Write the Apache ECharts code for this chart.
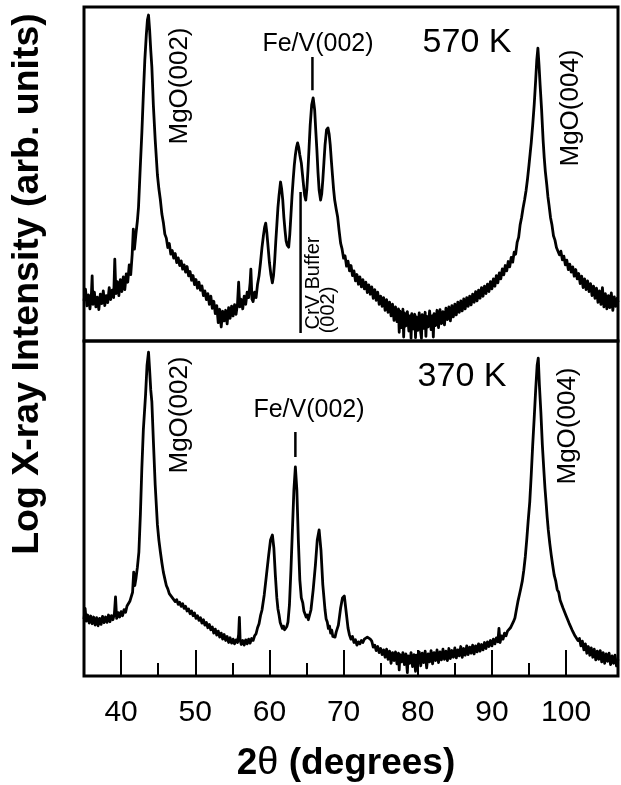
<!DOCTYPE html>
<html>
<head>
<meta charset="utf-8">
<script src="https://cdn.jsdelivr.net/npm/echarts@6/dist/echarts.min.js"></script>
<style>
  html, body { margin: 0; padding: 0; background: #fff; }
  #chart { width: 621px; height: 785px; }
</style>
</head>
<body>
<div id="chart"></div>
<script>
// 2θ scans, [2θ (deg), log intensity (arb. units, 0–100 per panel)]
const scan570K = [
  [35.0,12.0],[35.2,15.5],[35.4,10.5],[35.6,13.8],[35.8,9.6],[36.0,14.2],[36.1,19.5],[36.2,11.0],
  [36.4,14.6],[36.6,10.2],[36.8,13.1],[37.0,9.4],[37.2,14.0],[37.4,11.2],[37.6,15.0],[37.8,10.6],
  [38.0,13.6],[38.2,11.5],[38.4,16.0],[38.6,12.4],[38.8,15.2],[39.0,13.0],[39.15,24.5],[39.3,14.2],
  [39.5,17.8],[39.7,13.6],[39.9,18.4],[40.1,14.8],[40.3,19.2],[40.5,15.4],[40.7,20.1],[40.9,17.6],
  [41.1,22.8],[41.3,19.9],[41.5,26.0],[41.65,33.5],[41.8,27.5],[42.0,32.0],[42.2,36.0],[42.35,40.1],
  [42.6,52.7],[42.8,62.3],[43.0,73.7],[43.2,84.1],[43.4,91.6],[43.55,96.1],[43.7,97.6],[43.85,93.1],
  [44.0,87.1],[44.15,82.0],[44.35,70.7],[44.6,60.2],[44.9,49.7],[45.1,45.5],[45.3,42.2],[45.5,38.0],
  [45.7,35.5],[45.9,32.0],[46.1,30.8],[46.3,28.0],[46.5,29.2],[46.7,26.0],[46.9,27.1],[47.1,24.8],
  [47.3,26.2],[47.5,23.5],[47.7,24.9],[47.9,22.6],[48.1,24.0],[48.3,21.5],[48.5,22.8],[48.7,20.6],
  [48.9,22.3],[49.1,19.5],[49.3,20.8],[49.5,18.2],[49.7,19.6],[49.9,16.9],[50.1,18.4],[50.3,15.8],
  [50.5,17.6],[50.7,15.2],[50.9,16.5],[51.1,13.6],[51.3,15.0],[51.5,12.4],[51.7,14.2],[51.9,11.0],
  [52.1,13.4],[52.3,9.8],[52.5,11.9],[52.7,8.2],[52.9,10.6],[53.1,5.5],[53.3,9.5],[53.5,4.2],
  [53.7,8.9],[53.9,6.0],[54.1,9.2],[54.3,5.1],[54.5,10.0],[54.7,6.8],[54.9,10.4],[55.1,7.5],
  [55.3,10.9],[55.5,8.0],[55.7,11.2],[55.85,17.6],[56.0,10.2],[56.2,12.5],[56.4,9.6],[56.6,13.4],
  [56.8,11.0],[57.0,14.6],[57.2,13.0],[57.4,17.5],[57.5,21.5],[57.65,12.5],[57.8,11.8],[58.0,14.6],
  [58.2,13.0],[58.4,17.0],[58.6,19.5],[58.8,23.5],[59.0,28.0],[59.2,31.7],[59.35,34.0],[59.5,35.3],
  [59.65,32.5],[59.8,28.7],[60.0,23.5],[60.2,19.8],[60.4,17.4],[60.55,19.5],[60.7,23.7],[60.85,29.5],
  [61.0,34.7],[61.15,40.0],[61.3,43.7],[61.5,47.6],[61.65,45.5],[61.8,42.2],[61.95,37.0],[62.1,33.2],
  [62.25,30.0],[62.4,28.7],[62.6,28.1],[62.75,32.0],[62.9,37.7],[63.05,43.5],[63.2,48.2],[63.35,52.5],
  [63.5,55.7],[63.65,58.0],[63.8,59.3],[63.95,58.0],[64.1,55.7],[64.3,53.3],[64.45,50.0],[64.6,46.7],
  [64.75,43.6],[64.9,42.2],[65.05,45.5],[65.2,51.2],[65.35,58.0],[65.5,64.7],[65.7,70.7],[65.9,72.8],
  [66.1,69.2],[66.25,63.0],[66.4,57.2],[66.55,50.5],[66.7,45.2],[66.9,42.2],[67.05,44.0],[67.2,48.2],
  [67.35,53.5],[67.5,58.7],[67.7,63.2],[67.9,63.8],[68.05,62.0],[68.2,58.7],[68.35,54.0],[68.5,49.7],
  [68.65,45.5],[68.8,42.2],[69.0,39.5],[69.2,37.1],[69.4,33.0],[69.6,29.3],[69.8,27.5],[70.0,24.8],
  [70.2,25.5],[70.4,22.4],[70.6,23.9],[70.8,21.0],[71.0,22.6],[71.2,19.6],[71.4,21.0],[71.6,18.0],
  [71.8,19.9],[72.0,17.0],[72.2,19.2],[72.4,16.2],[72.6,18.4],[72.8,15.6],[73.0,17.6],[73.2,14.5],
  [73.4,16.8],[73.6,14.0],[73.8,16.2],[74.0,12.8],[74.2,15.4],[74.4,12.2],[74.6,14.6],[74.8,11.0],
  [75.0,13.4],[75.2,10.4],[75.4,13.0],[75.6,9.2],[75.8,12.4],[76.0,8.6],[76.2,11.6],[76.4,7.5],
  [76.6,11.0],[76.8,6.2],[77.0,10.2],[77.2,5.8],[77.4,9.6],[77.5,2.6],[77.6,8.9],[77.8,4.0],
  [78.0,9.5],[78.1,1.2],[78.2,8.4],[78.4,4.5],[78.6,8.8],[78.8,3.0],[79.0,7.6],[79.1,0.8],
  [79.2,8.2],[79.4,3.6],[79.6,8.0],[79.7,1.0],[79.8,7.2],[80.0,3.2],[80.2,8.4],[80.4,2.5],
  [80.5,0.8],[80.6,7.9],[80.8,3.8],[81.0,8.6],[81.1,1.4],[81.2,7.4],[81.4,4.2],[81.6,9.0],
  [81.8,3.4],[82.0,7.6],[82.1,1.2],[82.2,8.2],[82.4,4.6],[82.6,9.2],[82.8,4.0],[83.0,9.4],
  [83.2,5.2],[83.4,8.8],[83.6,4.8],[83.8,9.8],[84.0,6.4],[84.2,10.2],[84.4,6.0],[84.6,10.6],
  [84.8,7.2],[85.0,11.0],[85.2,7.8],[85.4,11.6],[85.6,8.6],[85.8,12.0],[86.0,9.0],[86.2,12.6],
  [86.4,9.6],[86.6,13.0],[86.8,10.4],[87.0,13.4],[87.2,10.8],[87.4,14.0],[87.6,11.6],[87.8,14.8],
  [88.0,12.0],[88.2,15.2],[88.4,12.8],[88.6,16.0],[88.8,13.4],[89.0,16.4],[89.2,14.2],[89.4,17.0],
  [89.6,14.8],[89.8,17.8],[90.0,15.6],[90.2,18.6],[90.4,16.4],[90.6,19.6],[90.8,17.4],[91.0,20.4],
  [91.2,18.6],[91.4,21.6],[91.6,19.8],[91.8,22.6],[92.0,21.0],[92.2,23.8],[92.4,22.2],[92.6,25.0],
  [92.8,23.6],[93.0,26.6],[93.2,26.0],[93.4,29.5],[93.6,31.0],[93.8,34.7],[94.0,37.0],[94.2,39.8],
  [94.4,42.2],[94.6,45.0],[94.8,48.5],[95.0,52.7],[95.15,56.0],[95.3,59.3],[95.5,64.7],[95.7,70.7],
  [95.9,78.1],[96.05,84.1],[96.2,87.7],[96.35,82.6],[96.5,76.6],[96.7,69.2],[96.9,60.2],[97.05,55.0],
  [97.2,50.8],[97.4,46.7],[97.55,43.2],[97.7,40.7],[97.9,37.0],[98.1,34.7],[98.3,31.5],[98.5,30.2],
  [98.7,28.0],[98.9,28.4],[99.1,25.8],[99.3,26.9],[99.5,24.3],[99.7,25.4],[99.9,22.8],[100.1,24.2],
  [100.3,21.4],[100.5,23.0],[100.7,20.6],[100.9,22.2],[101.1,19.4],[101.3,21.4],[101.5,18.6],[101.7,20.2],
  [101.9,17.2],[102.1,19.4],[102.3,16.0],[102.5,18.6],[102.7,15.4],[102.9,18.0],[103.1,14.8],[103.3,17.2],
  [103.5,13.6],[103.7,16.4],[103.9,12.8],[104.1,15.8],[104.3,11.6],[104.5,15.0],[104.7,11.0],[104.9,16.0],
  [105.1,10.2],[105.3,14.2],[105.5,9.6],[105.7,13.6],[105.9,10.0],[106.1,14.4],[106.3,9.2],[106.5,13.2],
  [106.7,10.4],[106.9,12.8],[107.0,11.6]
];

const scan370K = [
  [35.0,17.0],[35.15,20.2],[35.3,16.4],[35.5,18.2],[35.7,15.8],[35.9,17.9],[36.1,15.6],[36.3,17.6],
  [36.5,15.2],[36.7,17.4],[36.9,15.0],[37.1,17.2],[37.3,15.4],[37.5,17.8],[37.7,15.9],[37.9,17.6],
  [38.1,16.0],[38.3,18.2],[38.5,16.2],[38.7,18.0],[38.9,16.8],[39.1,18.6],[39.25,23.6],[39.4,17.2],
  [39.6,18.9],[39.8,17.6],[40.0,19.2],[40.2,18.0],[40.4,19.8],[40.6,19.0],[40.8,20.9],[41.0,20.4],
  [41.2,22.4],[41.4,22.8],[41.55,25.0],[41.7,31.0],[41.85,27.0],[42.0,29.0],[42.2,32.5],[42.4,37.0],
  [42.6,48.1],[42.8,62.1],[43.0,73.4],[43.3,83.9],[43.5,92.8],[43.7,96.7],[43.85,91.3],[44.0,85.4],
  [44.15,81.8],[44.35,70.4],[44.6,57.0],[44.9,45.1],[45.1,40.5],[45.3,37.0],[45.5,33.8],[45.7,31.0],
  [45.9,29.0],[46.1,27.0],[46.3,26.0],[46.5,24.6],[46.7,24.8],[46.9,23.4],[47.1,23.6],[47.3,22.2],
  [47.5,22.8],[47.7,21.4],[47.9,22.0],[48.1,20.8],[48.3,21.6],[48.5,20.2],[48.7,20.8],[48.9,19.4],
  [49.1,20.0],[49.3,18.6],[49.5,19.4],[49.7,18.0],[49.9,18.8],[50.1,17.2],[50.3,18.0],[50.5,16.6],
  [50.7,17.4],[50.9,15.8],[51.1,16.8],[51.3,15.2],[51.5,16.0],[51.7,14.4],[51.9,15.4],[52.1,13.8],
  [52.3,14.6],[52.5,12.8],[52.7,14.0],[52.9,12.2],[53.1,13.4],[53.3,11.6],[53.5,12.8],[53.7,11.0],
  [53.9,12.4],[54.1,10.6],[54.3,11.8],[54.5,10.0],[54.7,11.4],[54.9,9.8],[55.1,11.0],[55.3,9.6],
  [55.5,10.8],[55.7,10.0],[55.85,12.4],[55.95,17.5],[56.05,10.8],[56.2,9.4],[56.4,10.6],[56.6,9.2],
  [56.8,10.8],[57.0,9.6],[57.2,11.0],[57.4,9.8],[57.6,11.2],[57.8,10.6],[58.0,12.0],[58.2,12.6],
  [58.4,14.4],[58.6,15.6],[58.8,18.0],[59.0,19.7],[59.3,24.2],[59.6,30.1],[59.9,36.1],[60.15,40.6],
  [60.4,42.1],[60.6,38.2],[60.8,30.1],[61.0,23.3],[61.15,20.0],[61.3,18.2],[61.45,16.0],[61.6,15.5],
  [61.75,14.2],[61.9,14.9],[62.05,13.8],[62.2,14.3],[62.35,14.8],[62.5,16.1],[62.7,21.2],[62.9,31.6],
  [63.1,43.6],[63.3,55.5],[63.5,62.4],[63.7,55.5],[63.9,40.6],[64.1,28.7],[64.3,23.3],[64.5,21.8],
  [64.65,19.4],[64.8,19.1],[64.95,17.6],[65.1,18.2],[65.25,16.8],[65.35,17.3],[65.6,19.7],[65.9,25.7],
  [66.2,33.1],[66.45,40.6],[66.7,43.6],[66.95,37.6],[67.2,27.2],[67.5,19.7],[67.65,17.0],[67.8,16.1],
  [67.95,14.2],[68.1,14.9],[68.25,12.8],[68.4,13.7],[68.55,11.8],[68.7,12.2],[68.85,11.6],[69.0,13.1],
  [69.3,15.2],[69.6,20.3],[69.85,23.3],[70.1,23.9],[70.35,19.1],[70.6,14.3],[70.8,12.2],[71.0,11.0],
  [71.2,11.8],[71.4,10.0],[71.6,10.8],[71.8,9.2],[72.0,10.2],[72.2,9.6],[72.4,10.6],[72.6,10.0],
  [72.8,11.0],[73.0,10.6],[73.2,11.6],[73.4,12.0],[73.6,11.0],[73.8,10.4],[74.0,8.6],[74.2,9.2],
  [74.4,7.6],[74.6,8.8],[74.8,7.0],[75.0,8.2],[75.2,6.4],[75.4,7.8],[75.6,5.6],[75.8,8.0],
  [76.0,5.0],[76.2,7.4],[76.4,3.8],[76.6,7.0],[76.8,4.6],[77.0,7.2],[77.2,3.6],[77.4,6.8],
  [77.5,1.8],[77.6,6.4],[77.8,4.2],[78.0,7.0],[78.2,3.4],[78.4,6.6],[78.6,1.0],[78.7,6.0],
  [78.9,3.8],[79.1,7.0],[79.3,2.8],[79.5,6.4],[79.7,1.4],[79.8,6.2],[80.0,3.6],[80.2,7.2],
  [80.4,3.0],[80.6,6.8],[80.8,4.0],[81.0,7.4],[81.2,2.4],[81.4,6.6],[81.6,4.2],[81.8,7.6],
  [82.0,3.6],[82.2,7.0],[82.4,4.6],[82.6,7.8],[82.8,4.0],[83.0,7.2],[83.2,4.8],[83.4,8.0],
  [83.6,5.0],[83.8,7.4],[84.0,4.6],[84.2,8.2],[84.4,5.2],[84.6,7.6],[84.8,5.6],[85.0,8.4],
  [85.2,5.4],[85.4,7.8],[85.6,6.0],[85.8,8.8],[86.0,5.6],[86.2,8.2],[86.4,6.2],[86.6,9.0],
  [86.8,6.4],[87.0,8.6],[87.2,6.8],[87.4,9.2],[87.6,6.6],[87.8,9.0],[88.0,7.2],[88.2,9.6],
  [88.4,7.4],[88.6,9.4],[88.8,7.8],[89.0,10.0],[89.2,8.2],[89.4,10.2],[89.6,8.8],[89.8,10.6],
  [90.0,9.0],[90.2,11.0],[90.4,9.6],[90.6,11.4],[90.8,10.2],[90.95,14.2],[91.1,10.0],[91.3,12.0],
  [91.5,11.0],[91.7,12.8],[91.9,12.0],[92.1,13.4],[92.3,13.0],[92.5,14.4],[92.7,14.6],[92.9,16.2],
  [93.1,17.3],[93.3,19.8],[93.5,22.2],[93.7,24.2],[93.9,26.2],[94.1,28.4],[94.3,31.6],[94.5,35.6],
  [94.7,40.8],[94.9,46.6],[95.1,51.9],[95.3,60.0],[95.5,69.0],[95.7,77.0],[95.9,85.4],[96.1,92.8],
  [96.25,94.9],[96.4,86.9],[96.6,78.8],[96.8,69.0],[97.0,61.5],[97.15,56.2],[97.3,51.9],[97.45,47.4],
  [97.6,43.6],[97.8,39.6],[98.0,36.1],[98.2,33.0],[98.4,30.1],[98.6,28.4],[98.8,25.8],[99.0,25.0],
  [99.2,22.6],[99.4,22.4],[99.6,20.2],[99.8,20.0],[100.0,18.0],[100.2,17.8],[100.4,15.8],[100.6,15.8],
  [100.8,13.8],[101.0,14.0],[101.2,12.0],[101.4,12.4],[101.6,10.6],[101.8,11.2],[102.0,9.0],[102.2,10.4],
  [102.4,7.8],[102.6,9.6],[102.8,6.8],[103.0,8.8],[103.2,6.2],[103.4,8.4],[103.6,5.6],[103.8,8.0],
  [104.0,4.8],[104.2,7.4],[104.4,5.0],[104.6,7.6],[104.8,4.2],[105.0,7.0],[105.2,3.8],[105.4,6.6],
  [105.6,4.4],[105.8,6.8],[106.0,3.4],[106.2,6.0],[106.4,3.8],[106.6,6.2],[106.8,3.0],[107.0,5.0]
];

// reflection markers: [2θ, lower end, upper end]
const feV570Marker = [65.8, 75.1, 85.0];
const crVBufferLine = [64.2, 2.4, 44.6];
const feV370Marker = [63.5, 65.4, 72.8];

// bottom axis ticks
const majorTicks = [40, 50, 60, 70, 80, 90, 100];
const minorTicks = [45, 55, 65, 75, 85, 95];
const thetaRange = [35, 107];

const chart = echarts.init(document.getElementById('chart'), null, { renderer: 'canvas' });

const LEFT = 84, RIGHT = 3, TOP = 7, MID = 341, BOTTOM = 676;
const FONT = '"Liberation Sans", Arial, Helvetica, sans-serif';

function segment(m, grid) {
  return {
    type: 'line',
    xAxisIndex: grid === 0 ? 0 : 1,
    yAxisIndex: grid,
    data: [[m[0], m[1]], [m[0], m[2]]],
    showSymbol: false,
    lineStyle: { color: '#000', width: 2.5 },
    silent: true,
    z: 3
  };
}

function label(text, x, y, size, vertical) {
  return {
    type: 'text', x: x, y: y, rotation: vertical ? Math.PI / 2 : 0,
    style: { text: text, x: 0, y: 0, align: 'center', verticalAlign: 'middle', font: size + 'px ' + FONT, fill: '#000' }
  };
}

chart.setOption({
  animation: false,
  backgroundColor: '#fff',
  grid: [
    { left: LEFT, right: RIGHT, top: TOP, height: MID - TOP, show: true, borderColor: '#000', borderWidth: 3, backgroundColor: 'transparent' },
    { left: LEFT, right: RIGHT, top: MID, height: BOTTOM - MID, show: true, borderColor: '#000', borderWidth: 3, backgroundColor: 'transparent' }
  ],
  xAxis: [
    { type: 'value', gridIndex: 0, min: thetaRange[0], max: thetaRange[1], show: false },
    {
      type: 'value', gridIndex: 1, min: thetaRange[0], max: thetaRange[1],
      axisLine: { show: false },
      splitLine: { show: false },
      axisTick: { show: true, inside: true, length: 26, customValues: majorTicks, lineStyle: { color: '#000', width: 2 } },
      axisLabel: { show: true, customValues: majorTicks, margin: 22, color: '#000', fontSize: 30, fontFamily: FONT }
    },
    {
      type: 'value', gridIndex: 1, min: thetaRange[0], max: thetaRange[1], position: 'bottom',
      axisLine: { show: false },
      splitLine: { show: false },
      axisTick: { show: true, inside: true, length: 13, customValues: minorTicks, lineStyle: { color: '#000', width: 2 } },
      axisLabel: { show: false }
    }
  ],
  yAxis: [
    { type: 'value', gridIndex: 0, min: 0, max: 100, show: false },
    { type: 'value', gridIndex: 1, min: 0, max: 100, show: false }
  ],
  series: [
    { type: 'line', xAxisIndex: 0, yAxisIndex: 0, data: scan570K, showSymbol: false, lineStyle: { color: '#000', width: 2.8, join: 'round' }, z: 4 },
    { type: 'line', xAxisIndex: 1, yAxisIndex: 1, data: scan370K, showSymbol: false, lineStyle: { color: '#000', width: 2.8, join: 'round' }, z: 4 },
    segment(feV570Marker, 0),
    segment(crVBufferLine, 0),
    segment(feV370Marker, 1)
  ],
  graphic: [
    // axis titles
    { type: 'text', x: 28, y: 284, rotation: Math.PI / 2,
      style: { text: 'Log X-ray Intensity (arb. units)', x: 0, y: 0, align: 'center', verticalAlign: 'middle', font: 'bold 37.5px ' + FONT, fill: '#000' } },
    { type: 'text', x: 346, y: 764,
      style: { text: '{b|2}{t|θ}{b| (degrees)}', x: 0, y: 0, align: 'center', verticalAlign: 'middle',
        rich: { b: { font: 'bold 37px ' + FONT, fill: '#000' }, t: { font: '38px ' + FONT, fill: '#000' } } } },

    // 570 K panel
    label('570 K', 467, 43, 34, false),
    label('Fe/V(002)', 318, 44, 25, false),
    label('MgO(002)', 180, 86, 26, true),
    label('MgO(004)', 571, 108, 26, true),
    label('CrV Buffer', 313, 283, 20, true),
    label('(002)', 328, 310, 20, true),

    // 370 K panel
    label('370 K', 462, 377, 34, false),
    label('Fe/V(002)', 309, 410, 25, false),
    label('MgO(002)', 180, 415, 26, true),
    label('MgO(004)', 568, 426, 26, true)
  ]
});
</script>
</body>
</html>
